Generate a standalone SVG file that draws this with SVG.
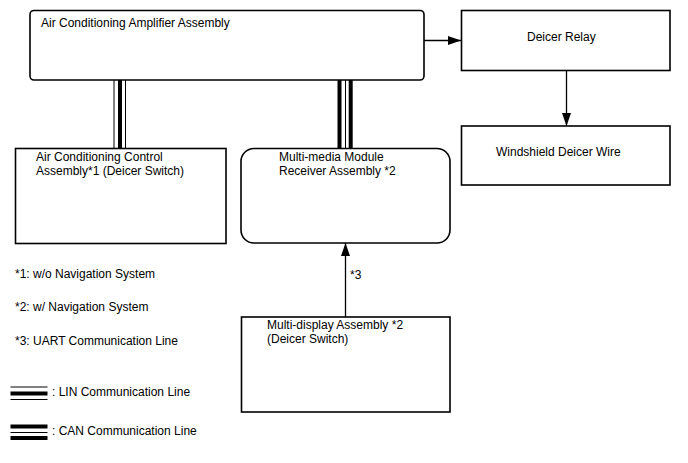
<svg xmlns="http://www.w3.org/2000/svg" width="688" height="463" viewBox="0 0 688 463">
<defs>
<style>
.box{fill:#fff;stroke:#000;stroke-width:1.6}
.t{font-family:"Liberation Sans",Arial,sans-serif;font-size:12px;fill:#000}
.ln{stroke:#000;fill:none}
.thin{stroke:#000;stroke-width:1}
.thick{stroke:#000;stroke-width:4}
</style>
<marker id="ah" markerWidth="13" markerHeight="9" refX="13" refY="4.5" orient="auto" markerUnits="userSpaceOnUse">
<path d="M0,0 L13,4.5 L0,9 Z" fill="#000"/>
</marker>
</defs>
<rect width="688" height="463" fill="#fff"/>
<g id="connectors">
<line class="thin" x1="114" y1="80" x2="114" y2="149"/>
<line class="thick" x1="120" y1="80" x2="120" y2="149"/>
<line class="thin" x1="125.5" y1="80" x2="125.5" y2="149"/>
<line class="thick" x1="339.5" y1="80" x2="339.5" y2="149"/>
<line class="thin" x1="345.5" y1="80" x2="345.5" y2="149"/>
<line class="thick" x1="350.7" y1="80" x2="350.7" y2="149"/>
<line class="ln" stroke-width="1.3" x1="424" y1="40.5" x2="461" y2="40.5" marker-end="url(#ah)"/>
<line class="ln" stroke-width="1.3" x1="566.5" y1="71" x2="566.5" y2="126" marker-end="url(#ah)"/>
<line class="ln" stroke-width="1.3" x1="345.5" y1="317" x2="345.5" y2="243" marker-end="url(#ah)"/>
<text class="t" x="350" y="279">*3</text>
</g>
<g id="amp">
<rect class="box" x="30" y="10.5" width="394" height="69.5" rx="4"/>
<text class="t" x="41" y="27">Air Conditioning Amplifier Assembly</text>
</g>
<g id="relay">
<rect class="box" x="461.5" y="10.5" width="208.5" height="60"/>
<text class="t" x="527" y="41">Deicer Relay</text>
</g>
<g id="wire">
<rect class="box" x="461.5" y="126" width="208.5" height="59"/>
<text class="t" x="496" y="156">Windshield Deicer Wire</text>
</g>
<g id="accontrol">
<rect class="box" x="15.5" y="148.5" width="210.5" height="95"/>
<text class="t" x="36" y="161">Air Conditioning Control</text>
<text class="t" x="36" y="175">Assembly*1 (Deicer Switch)</text>
</g>
<g id="multimedia">
<rect class="box" x="241" y="148.5" width="209" height="94.5" rx="13"/>
<text class="t" x="279" y="161">Multi-media Module</text>
<text class="t" x="279" y="175">Receiver Assembly *2</text>
</g>
<g id="multidisplay">
<rect class="box" x="241.5" y="317" width="208.5" height="95"/>
<text class="t" x="267" y="329">Multi-display Assembly *2</text>
<text class="t" x="267" y="343">(Deicer Switch)</text>
</g>
<g id="legend">
<text class="t" x="15" y="278">*1: w/o Navigation System</text>
<text class="t" x="15" y="311">*2: w/ Navigation System</text>
<text class="t" x="15" y="345">*3: UART Communication Line</text>
<line class="thin" x1="10.5" y1="387" x2="47.5" y2="387"/>
<line class="thick" x1="10.5" y1="393.5" x2="47.5" y2="393.5"/>
<line class="thin" x1="10.5" y1="399.5" x2="47.5" y2="399.5"/>
<text class="t" x="52" y="396">: LIN Communication Line</text>
<line class="thick" x1="10.5" y1="426.5" x2="47.5" y2="426.5"/>
<line class="thin" x1="10.5" y1="432.5" x2="47.5" y2="432.5"/>
<line class="thick" x1="10.5" y1="438" x2="47.5" y2="438"/>
<text class="t" x="52" y="435">: CAN Communication Line</text>
</g>
</svg>
